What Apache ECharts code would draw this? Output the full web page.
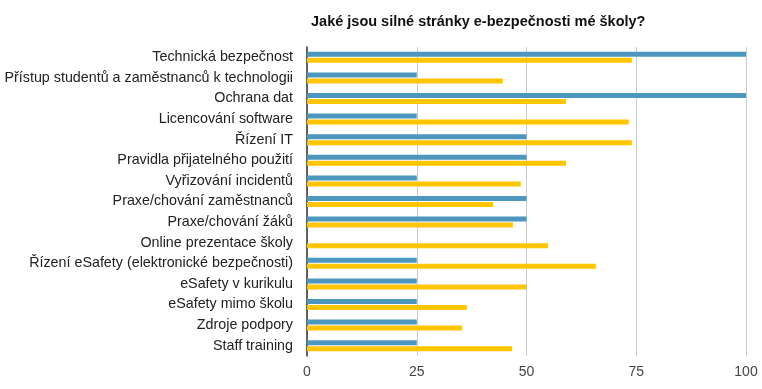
<!DOCTYPE html>
<html><head><meta charset="utf-8">
<script src="https://cdn.jsdelivr.net/npm/echarts@6/dist/echarts.min.js"></script>
<style>html,body{margin:0;padding:0;background:#fff}#c{width:762px;height:389px}</style>
</head><body><div id="c"></div>
<script>
const categories = ["Technická bezpečnost","Přístup studentů a zaměstnanců k technologii","Ochrana dat","Licencování software","Řízení IT","Pravidla přijatelného použití","Vyřizování incidentů","Praxe/chování zaměstnanců","Praxe/chování žáků","Online prezentace školy","Řízení eSafety (elektronické bezpečnosti)","eSafety v kurikulu","eSafety mimo školu","Zdroje podpory","Staff training"];
const seriesBlue = [100,25,100,25,50,50,25,50,50,0,25,25,25,25,25];
const seriesYellow = [74,44.6,59,73.3,74,59,48.7,42.4,46.9,54.9,65.8,49.9,36.4,35.3,46.7];
const xTicks = [0,25,50,75,100];
const titleText = "Jaké jsou silné stránky e-bezpečnosti mé školy?";

const chart = echarts.init(document.getElementById('c'), null, {renderer:'canvas'});
chart.setOption({
  animation:false,
  backgroundColor:'#fff',
  title:{text:titleText,left:306,top:9,textStyle:{fontFamily:'Liberation Sans, Arial',fontSize:14.5,fontWeight:'bold',color:'#111'}},
  grid:{left:307,right:16,top:47,bottom:33,containLabel:false},
  xAxis:{type:'value',min:xTicks[0],max:xTicks[xTicks.length-1],interval:25,
    axisLine:{show:false},axisTick:{show:false},
    splitLine:{lineStyle:{color:'#ccc',width:1}},
    axisLabel:{color:'#444',fontFamily:'Liberation Sans, Arial',fontSize:14,margin:9}},
  yAxis:{type:'category',data:categories,inverse:true,
    axisLine:{show:true,lineStyle:{color:'#333',width:1.5}},axisTick:{show:false},
    axisLabel:{color:'#222',fontFamily:'Liberation Sans, Arial',fontSize:14.3,margin:14}},
  series:[
    {type:'bar',data:seriesBlue,barWidth:5,barGap:'20%',itemStyle:{color:'#4d96bd'}},
    {type:'bar',data:seriesYellow,barWidth:5,itemStyle:{color:'#ffc600'}}
  ]
});
</script></body></html>
